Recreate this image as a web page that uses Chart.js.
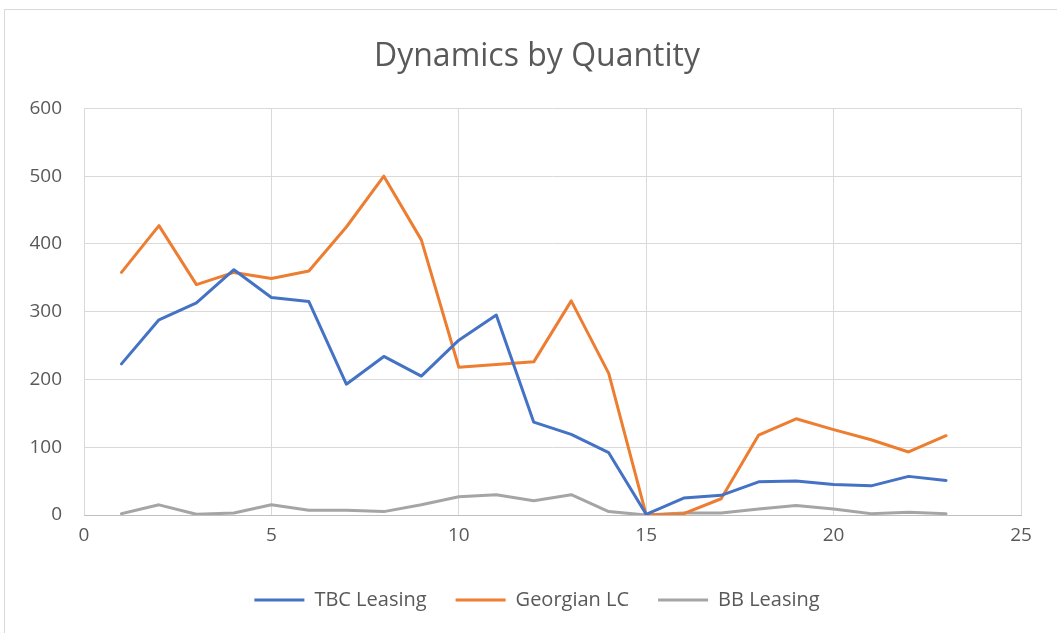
<!DOCTYPE html>
<html>
<head>
<meta charset="utf-8">
<script src="https://cdn.jsdelivr.net/npm/chart.js@4.4.0/dist/chart.umd.min.js"></script>
<style>
  html, body { margin: 0; padding: 0; background: #fff; overflow: hidden; }
  #frame { position: absolute; left: 4px; top: 9px; width: 1200px; height: 800px; border: 1px solid #d9d9d9; }
  /* a little wider than the window so title and legend centre on the outer chart box */
  #wrap { position: absolute; left: 0; top: 0; width: 1074px; height: 633px; }
</style>
</head>
<body>
<div id="frame"></div>
<div id="wrap"><canvas id="chart"></canvas></div>
<script>
// x positions (period number)
var periods = [1,2,3,4,5,6,7,8,9,10,11,12,13,14,15,16,17,18,19,20,21,22,23];

// series values
var tbcLeasing = [223,288,313,362,321,315,193,234,205,258,295,137,119,92,1,25,29,49,50,45,43,57,51];
var georgianLC = [358,427,340,358,349,360,425,500,406,218,222,226,316,209,0,2,24,118,142,126,111,93,117];
var bbLeasing  = [2,15,1,3,15,7,7,5,15,27,30,21,30,5,0,3,3,9,14,9,2,4,2];

var xTicks = [0,5,10,15,20,25];
var yTicks = [0,100,200,300,400,500,600];

var textColor = '#595959';
var gridColor = '#d9d9d9';
var fontFamily = "'Open Sans', sans-serif";

function toPoints(values) {
    return values.map(function(v, i) { return { x: periods[i], y: v }; });
}

function makeSet(label, values, color) {
    return {
        label: label,
        data: toPoints(values),
        borderColor: color,
        backgroundColor: color,
        borderWidth: 3,
        borderCapStyle: 'round',
        borderJoinStyle: 'round',
        pointRadius: 0,
        pointHoverRadius: 0,
        tension: 0
    };
}

var ctx = document.getElementById('chart').getContext('2d');
var chart = new Chart(ctx, {
    type: 'line',
    data: {
        datasets: [
            makeSet('TBC Leasing', tbcLeasing, '#4472C4'),
            makeSet('Georgian LC', georgianLC, '#ED7D31'),
            makeSet('BB Leasing', bbLeasing, '#A5A5A5')
        ]
    },
    options: {
        responsive: true,
        maintainAspectRatio: false,
        animation: false,
        layout: { padding: { left: 0, right: 0, top: 0, bottom: 13 } },
        plugins: {
            title: {
                display: true,
                text: 'Dynamics by Quantity',
                color: textColor,
                font: { family: fontFamily, size: 32, weight: 'normal' },
                padding: { top: 38, bottom: 32 }
            },
            legend: {
                position: 'bottom',
                labels: {
                    color: textColor,
                    font: { family: fontFamily, size: 20 },
                    usePointStyle: true,
                    pointStyle: 'line',
                    pointStyleWidth: 50,
                    padding: 29
                }
            },
            tooltip: { enabled: false }
        },
        scales: {
            x: {
                type: 'linear',
                min: 0,
                max: 25,
                afterBuildTicks: function(scale) {
                    scale.ticks = xTicks.map(function(v) { return { value: v }; });
                },
                afterFit: function(scale) { scale.height = 46; },
                grid: { color: gridColor, drawTicks: false },
                border: { color: '#bfbfbf' },
                ticks: {
                    color: textColor,
                    padding: 9,
                    font: { family: fontFamily, size: 19 }
                }
            },
            y: {
                min: 0,
                max: 600,
                afterBuildTicks: function(scale) {
                    scale.ticks = yTicks.map(function(v) { return { value: v }; });
                },
                afterFit: function(scale) { scale.width = 84; },
                grid: { color: gridColor, drawTicks: false },
                border: { display: false },
                ticks: {
                    color: textColor,
                    padding: 22,
                    font: { family: fontFamily, size: 19 }
                }
            },
            // empty spacer on the right
            spacer: {
                type: 'linear',
                position: 'right',
                display: true,
                afterFit: function(scale) { scale.width = 53; },
                grid: { display: false },
                border: { display: false },
                ticks: { display: false }
            }
        }
    }
});
</script>
</body>
</html>
